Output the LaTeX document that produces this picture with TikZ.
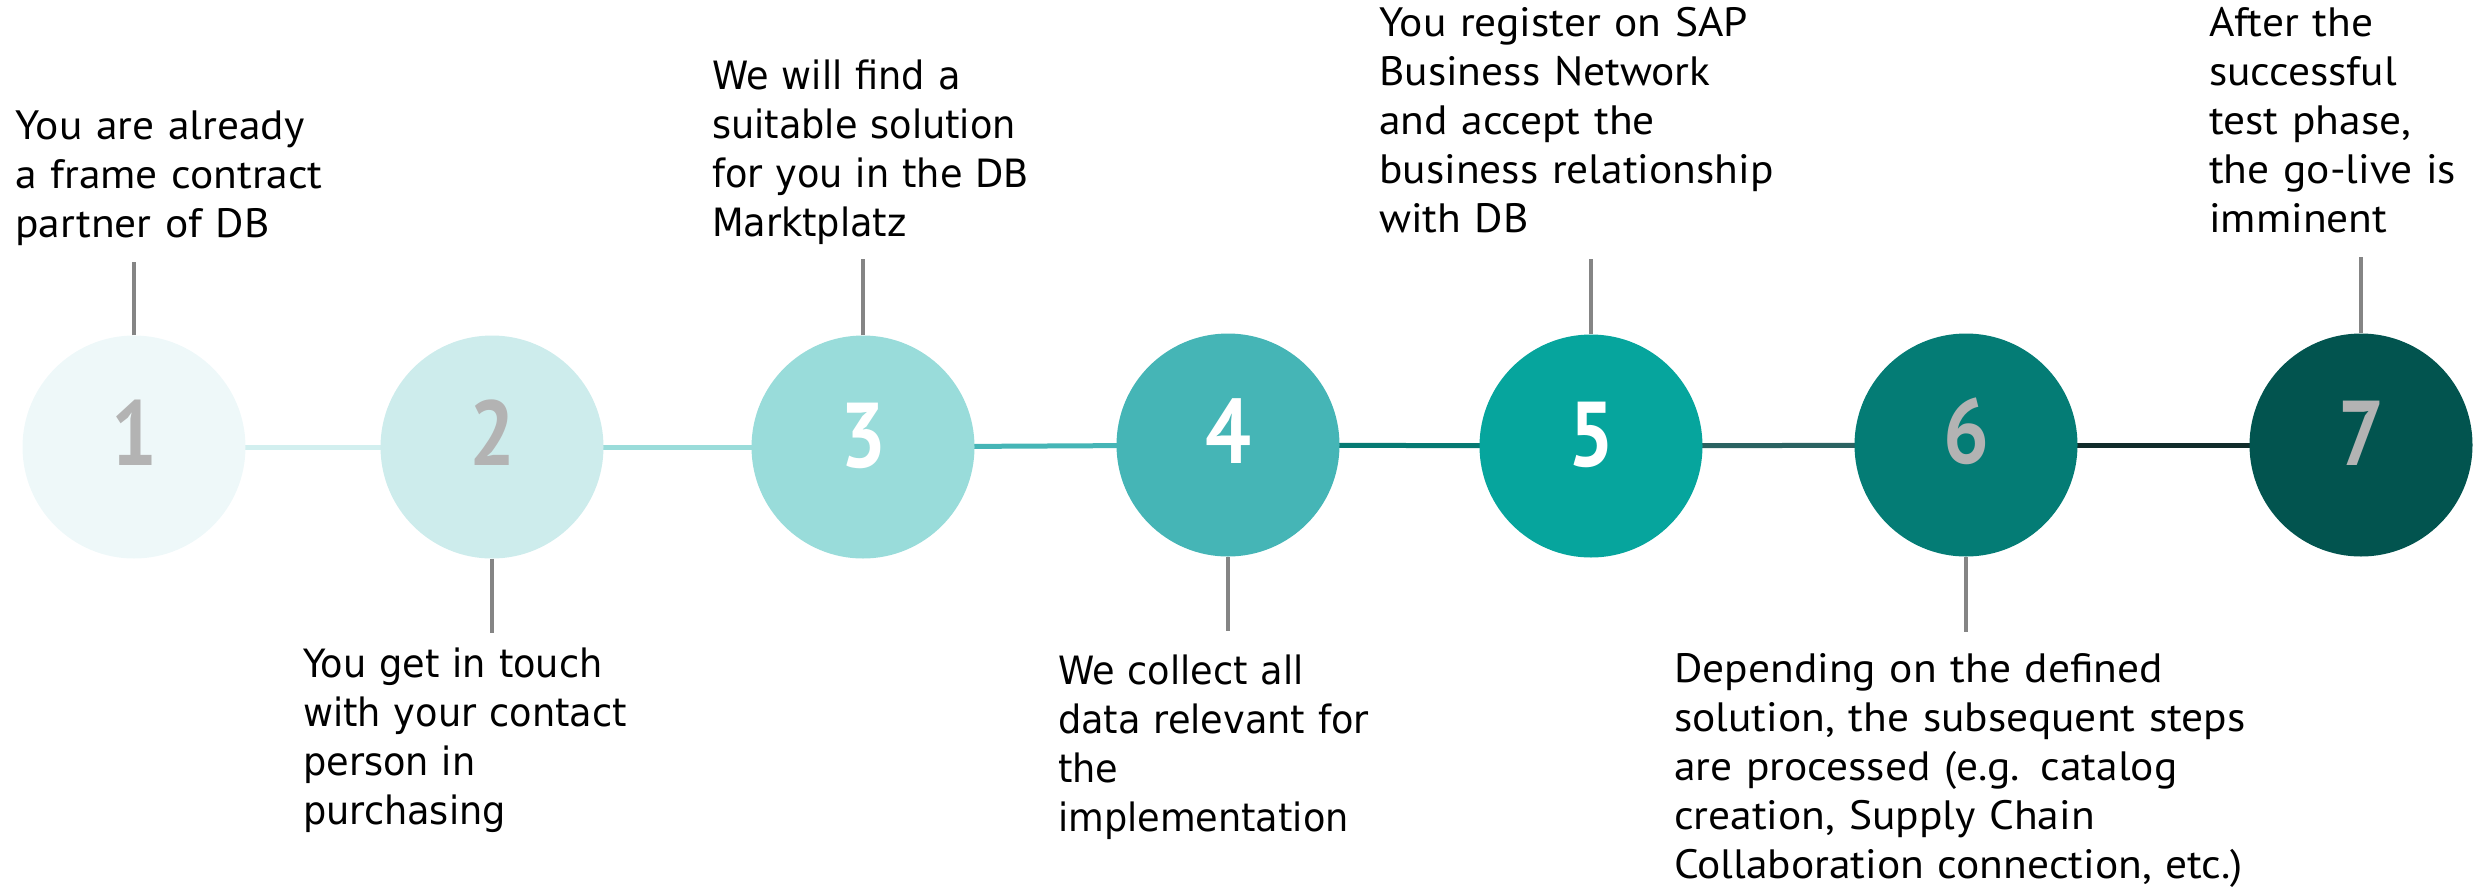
\documentclass[tikz,border=0pt]{standalone}
\usepackage{fontspec}
\setmainfont{PT Sans}[FakeStretch=1.06]
\newfontfamily\widefont{DejaVu Sans}[FakeStretch=0.94]
\newfontfamily\numfont{PT Sans}[FakeStretch=0.88]
\usetikzlibrary{backgrounds}

\definecolor{stepA}{HTML}{EEF8F9}
\definecolor{stepB}{HTML}{CDECEC}
\definecolor{stepC}{HTML}{99DCDA}
\definecolor{stepD}{HTML}{45B5B6}
\definecolor{stepE}{HTML}{06A59D}
\definecolor{stepF}{HTML}{047C75}
\definecolor{stepG}{HTML}{02544F}
\definecolor{trackA}{HTML}{D2EFEF}
\definecolor{trackB}{HTML}{9ADCDA}
\definecolor{trackC}{HTML}{45B5B6}
\definecolor{trackD}{HTML}{067A73}
\definecolor{trackE}{HTML}{2B6362}
\definecolor{trackF}{HTML}{112C2B}
\definecolor{pingrey}{HTML}{858585}
\definecolor{digitgrey}{HTML}{B3B3B3}

\tikzset{
  stepcircle/.style={circle, minimum size=223pt, inner sep=0pt, draw=none, fill=#1},
  digit/.style={font=\numfont\bfseries\fontsize{92}{92}\selectfont, anchor=base, inner sep=0pt, text=#1},
  caption/.style={anchor=base west, inner sep=0pt, text width=700pt, align=left,
    font=\fontsize{41}{49}\selectfont},
  wcaption/.style={caption, font=\widefont\fontsize{39}{49}\selectfont},
  pin/.style={draw=pingrey, line width=3.5pt},
  track/.style={line width=5pt, draw=#1},
}

\begin{document}
\begin{tikzpicture}[x=1pt, y=-1pt]
\useasboundingbox (0,0) rectangle (2481,887);

% step circles
\node[stepcircle=stepA] (c1) at (134,447) {};
\node[stepcircle=stepB] (c2) at (492,447) {};
\node[stepcircle=stepC] (c3) at (863,447) {};
\node[stepcircle=stepD] (c4) at (1228,445) {};
\node[stepcircle=stepE] (c5) at (1591,446) {};
\node[stepcircle=stepF] (c6) at (1966,445) {};
\node[stepcircle=stepG] (c7) at (2361,445) {};

% step numbers
\node[digit=digitgrey] (d1) at ([yshift=-18pt]c1.center) {1};
\node[digit=digitgrey] (d2) at ([yshift=-18pt]c2.center) {2};
\node[digit=white]     (d3) at ([yshift=-20pt]c3.center) {3};
\node[digit=white]     (d4) at ([yshift=-18pt]c4.center) {4};
\node[digit=white]     (d5) at ([yshift=-20pt]c5.center) {5};
\node[digit=digitgrey] (d6) at ([yshift=-18pt]c6.center) {6};
\node[digit=digitgrey] (d7) at ([yshift=-20pt]c7.center) {7};

% timeline segments behind the circles
\begin{scope}[on background layer]
  \draw[track=trackA] (c1.center) -- (c2.center);
  \draw[track=trackB] (c2.center) -- (c3.center);
  \draw[track=trackC] (c3.center) -- (c4.center);
  \draw[track=trackD] (c4.center) -- (c5.center);
  \draw[track=trackE] (c5.center) -- (c6.center);
  \draw[track=trackF] (c6.center) -- (c7.center);
\end{scope}

% captions
\node[caption] (t1) at (15,139) {You are already\\a frame contract\\partner of DB};
\node[wcaption] (t2) at (303,677) {You get in touch\\with your contact\\person in\\purchasing};
\node[wcaption] (t3) at (712,89) {We will find a\\suitable solution\\for you in the DB\\Marktplatz};
\node[wcaption] (t4) at (1058,684) {We collect all\\data relevant for\\the\\implementation};
\node[caption] (t5) at (1379,36) {You register on SAP\\Business Network\\and accept the\\business relationship\\with DB};
\node[caption] (t6) at (1674,682) {Depending on the defined\\solution, the subsequent steps\\are processed (e.g. catalog\\creation, Supply Chain\\Collaboration connection, etc.)};
\node[caption] (t7) at (2209,36) {After the\\successful\\test phase,\\the go-live is\\imminent};

% pin ends
\coordinate (p1) at (134,262);
\coordinate (p2) at (492,633);
\coordinate (p3) at (863,259);
\coordinate (p4) at (1228,631);
\coordinate (p5) at (1591,259);
\coordinate (p6) at (1966,632);
\coordinate (p7) at (2361,257);

% pins from circles towards captions
\draw[pin] (c1.north) -- (p1);
\draw[pin] (c2.south) -- (p2);
\draw[pin] (c3.north) -- (p3);
\draw[pin] (c4.south) -- (p4);
\draw[pin] (c5.north) -- (p5);
\draw[pin] (c6.south) -- (p6);
\draw[pin] (c7.north) -- (p7);
\end{tikzpicture}
\end{document}
